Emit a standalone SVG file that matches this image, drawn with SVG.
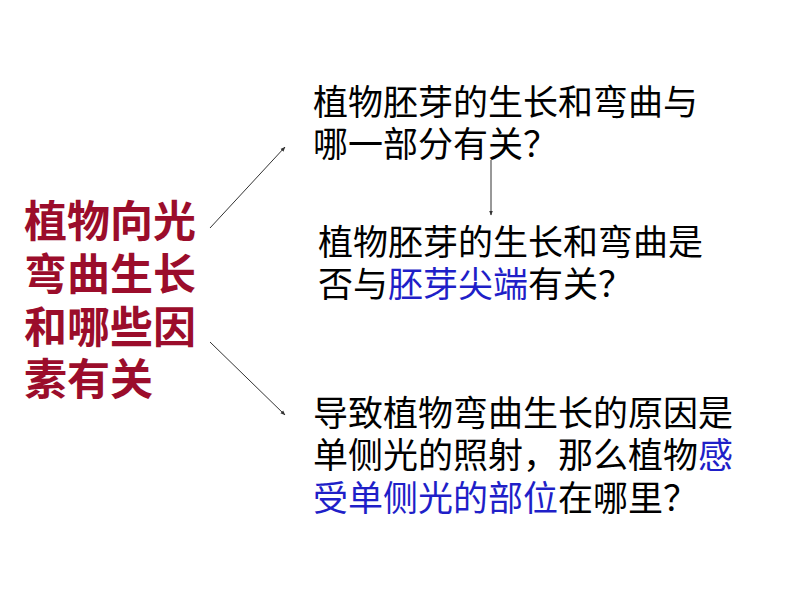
<svg xmlns="http://www.w3.org/2000/svg" width="794" height="596" viewBox="0 0 794 596">
<style>
.t{font-family:"Noto Sans CJK SC","Noto Sans",sans-serif;fill:#000;font-size:35px}
.title{font-family:"Noto Sans CJK SC","Noto Sans",sans-serif;fill:#9B0D2B;font-size:43px;font-weight:bold}
.b{fill:#1F1FC8}
.c{stroke:#333;stroke-width:1;fill:none;marker-end:url(#ah)}
</style>
<defs>
<marker id="ah" viewBox="0 0 10 10" refX="9" refY="5" markerWidth="5" markerHeight="5" orient="auto" markerUnits="userSpaceOnUse">
<path d="M0,1 L10,5 L0,9 z" fill="#333"/>
</marker>
</defs>
<rect width="794" height="596" fill="#fff"/>
<g id="connectors">
<line class="c" x1="210" y1="228" x2="285" y2="147"/>
<line class="c" x1="210" y1="342" x2="285" y2="415"/>
<line class="c" x1="491" y1="160" x2="491" y2="215"/>
</g>
<g id="title">
<text class="title"><tspan x="24" y="237">植物向光</tspan><tspan x="24" y="290">弯曲生长</tspan><tspan x="24" y="343">和哪些因</tspan><tspan x="24" y="395">素有关</tspan></text>
</g>
<g id="q1">
<text class="t"><tspan x="313" y="115">植物胚芽的生长和弯曲与</tspan><tspan x="313" y="157">哪一部分有关？</tspan></text>
</g>
<g id="q2">
<text class="t"><tspan x="318" y="255">植物胚芽的生长和弯曲是</tspan><tspan x="318" y="297">否与<tspan class="b">胚芽尖端</tspan>有关？</tspan></text>
</g>
<g id="q3">
<text class="t"><tspan x="313" y="426">导致植物弯曲生长的原因是</tspan><tspan x="313" y="468">单侧光的照射，那么植物<tspan class="b">感</tspan></tspan><tspan x="313" y="511"><tspan class="b">受单侧光的部位</tspan>在哪里？</tspan></text>
</g>
</svg>
